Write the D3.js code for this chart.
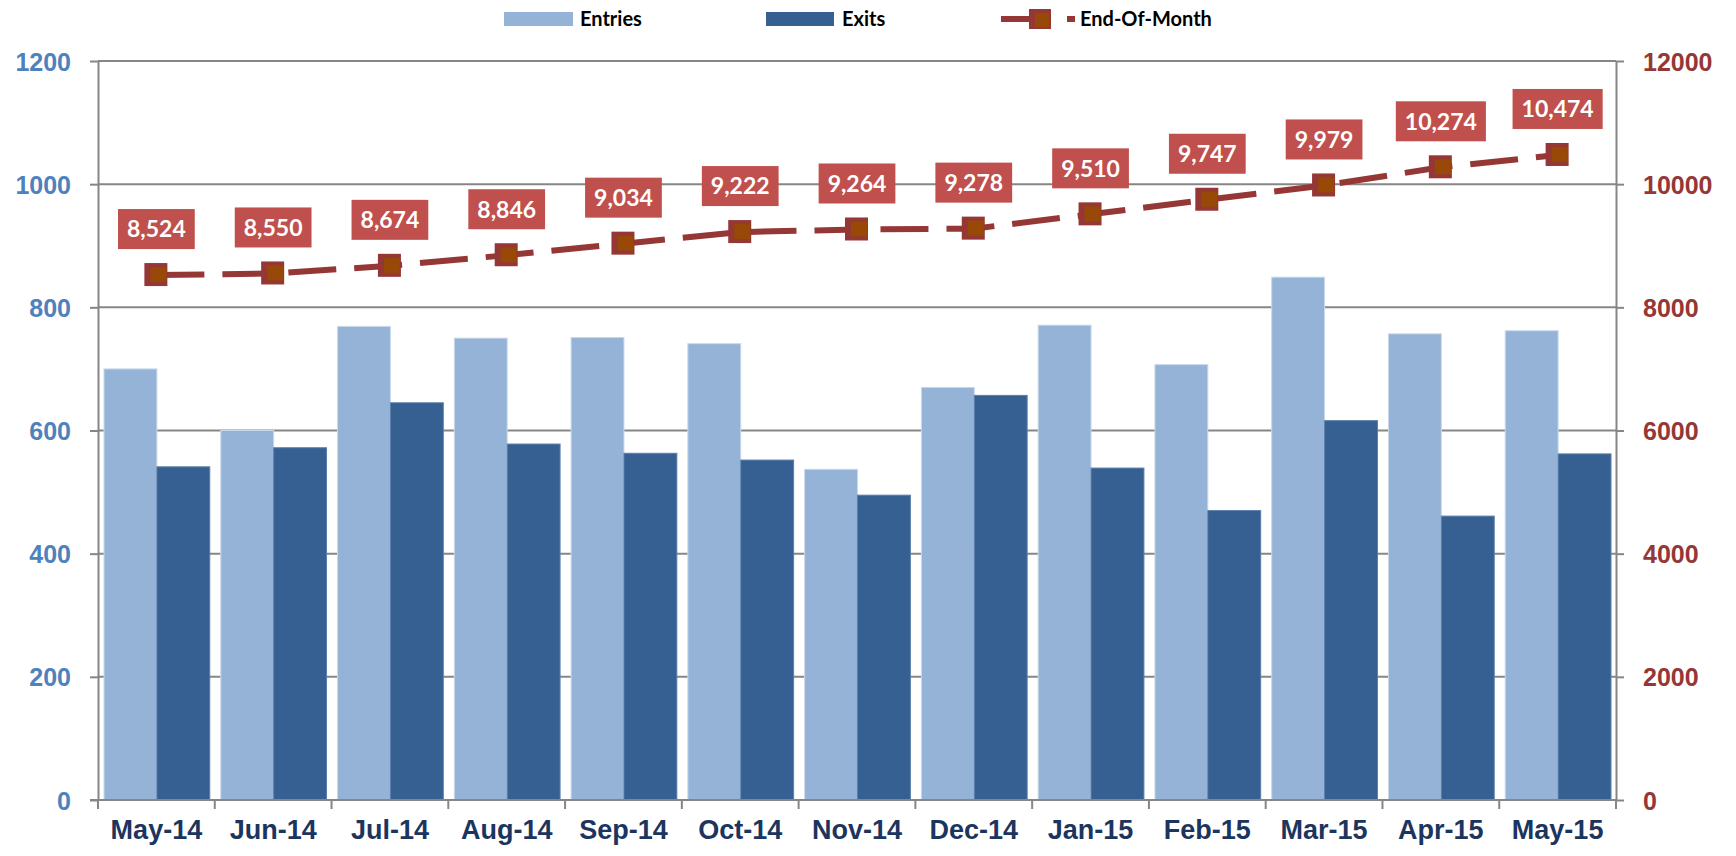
<!DOCTYPE html>
<html>
<head>
<meta charset="utf-8">
<script src="https://cdn.jsdelivr.net/npm/d3@7"></script>
<style>
  body { margin: 0; background: #fff; }
  svg { display: block; font-family: Lato, "Open Sans", sans-serif; font-weight: bold; }
</style>
</head>
<body>
<div id="chart"></div>
<script>
(function(){

var width = 1736,
	height = 856,
	left = 98,
	right = 1616,
	top = 61,
	bottom = 800;

// data
var months = ["May-14","Jun-14","Jul-14","Aug-14","Sep-14","Oct-14","Nov-14","Dec-14","Jan-15","Feb-15","Mar-15","Apr-15","May-15"];
var entries = [700, 600, 769, 750, 751, 741, 537, 670, 771, 707, 849, 757, 762];
var exits = [541, 572, 645, 578, 563, 552, 495, 657, 539, 470, 616, 461, 562];
var endOfMonth = [8524, 8550, 8674, 8846, 9034, 9222, 9264, 9278, 9510, 9747, 9979, 10274, 10474];
var leftTicks = [0, 200, 400, 600, 800, 1000, 1200];
var rightTicks = [0, 2000, 4000, 6000, 8000, 10000, 12000];
var seriesNames = ["Entries", "Exits", "End-Of-Month"];

var grey = "#868686",
	cEntries = "#95B3D7",
	cExits = "#366092",
	cLine = "#953735",
	cMarker = "#984807",
	cLabel = "#C0504D";

var svg = d3.select("#chart").append("svg")
	.attr("width", width)
	.attr("height", height);

var x0 = d3.scaleBand().domain(months).range([left, right]).padding(0);
var x1 = d3.scaleBand().domain(["entries","exits"]).range([6, x0.bandwidth() - 5]);
var y = d3.scaleLinear().domain([0, 1200]).range([bottom, top]);
var y2 = d3.scaleLinear().domain([0, 12000]).range([bottom, top]);

// gridlines
svg.append("g").selectAll("line").data(leftTicks.slice(1)).enter().append("line")
	.attr("x1", left).attr("x2", right)
	.attr("y1", function(d){ return y(d); })
	.attr("y2", function(d){ return y(d); })
	.style("stroke", grey).style("stroke-width", 2);

// bars
var rows = months.map(function(m, i){ return {m: m, entries: entries[i], exits: exits[i]}; });

var groups = svg.append("g").selectAll("g").data(rows).enter().append("g")
	.attr("transform", function(d){ return "translate(" + x0(d.m) + ",0)"; });

groups.append("rect")
	.attr("x", x1("entries"))
	.attr("width", x1.bandwidth())
	.attr("y", function(d){ return y(d.entries); })
	.attr("height", function(d){ return bottom - y(d.entries); })
	.style("fill", cEntries)
	.style("stroke", "#c9d9ec").style("stroke-width", 1);

groups.append("rect")
	.attr("x", x1("exits"))
	.attr("width", x1.bandwidth())
	.attr("y", function(d){ return y(d.exits); })
	.attr("height", function(d){ return bottom - y(d.exits); })
	.style("fill", cExits)
	.style("stroke", "#5a7fab").style("stroke-width", 1);

// axes
var yAxisL = svg.append("g")
	.attr("transform", "translate(" + left + ",0)")
	.call(d3.axisLeft(y).tickValues(leftTicks).tickSize(8).tickSizeOuter(0).tickPadding(19).tickFormat(d3.format("d")));
yAxisL.selectAll("text").style("fill", "#4F81BD").style("font-size", "25px").attr("dy", "0.36em");

var yAxisR = svg.append("g")
	.attr("transform", "translate(" + right + ",0)")
	.call(d3.axisRight(y2).tickValues(rightTicks).tickSize(8).tickSizeOuter(0).tickPadding(19).tickFormat(d3.format("d")));
yAxisR.selectAll("text").style("fill", cLine).style("font-size", "25px").attr("dy", "0.36em");

var xAxis = svg.append("g")
	.attr("transform", "translate(0," + bottom + ")")
	.call(d3.axisBottom(x0).tickSize(0).tickPadding(30));
xAxis.selectAll("text").style("fill", "#1C355E").style("font-size", "27px").attr("dy", "0.32em");
xAxis.select(".domain").attr("d", "M" + (left - 8) + ",0H" + right);

// category boundary ticks
svg.append("g").selectAll("line").data(months.concat(["end"])).enter().append("line")
	.attr("x1", function(d, i){ return i < months.length ? x0(d) : right; })
	.attr("x2", function(d, i){ return i < months.length ? x0(d) : right; })
	.attr("y1", bottom).attr("y2", bottom + 9);

svg.selectAll(".domain, .tick line, g > line")
	.style("stroke", grey).style("stroke-width", 2);
svg.selectAll(".tick text").style("font-weight", "bold");

// end-of-month line
var cx = function(i){ return x0(months[i]) + x0.bandwidth() / 2; };

var line = d3.line()
	.x(function(d, i){ return cx(i); })
	.y(function(d){ return y2(d); });

svg.append("path")
	.datum(endOfMonth)
	.attr("d", line)
	.style("fill", "none")
	.style("stroke", cLine)
	.style("stroke-width", 6)
	.style("stroke-dasharray", "48,18");

var marks = svg.append("g").selectAll("g").data(endOfMonth).enter().append("g")
	.attr("transform", function(d, i){ return "translate(" + cx(i) + "," + y2(d) + ")"; });
marks.append("rect").attr("x", -12).attr("y", -12).attr("width", 23).attr("height", 23)
	.style("fill", cLine);
marks.append("rect").attr("x", -6).attr("y", -8).attr("width", 16).attr("height", 15)
	.style("fill", cMarker);

// data labels
var fmt = d3.format(",");
var labels = svg.append("g").selectAll("g").data(endOfMonth).enter().append("g")
	.attr("transform", function(d, i){ return "translate(" + cx(i) + "," + (y2(d) - 46) + ")"; });
labels.append("text")
	.attr("text-anchor", "middle")
	.attr("dy", "0.36em")
	.style("fill", "#fff")
	.style("font-size", "23px")
	.text(function(d){ return fmt(d); });
labels.each(function(){
	var g = d3.select(this),
		b = g.select("text").node().getBBox();
	g.insert("rect", "text")
		.attr("x", b.x - 9).attr("y", -20)
		.attr("width", b.width + 18).attr("height", 40)
		.style("fill", cLabel);
});

// legend
var legend = svg.append("g");
legend.append("rect").attr("x", 504).attr("y", 12).attr("width", 69).attr("height", 14).style("fill", cEntries);
legend.append("rect").attr("x", 766).attr("y", 12).attr("width", 68).attr("height", 14).style("fill", cExits);
legend.append("line").attr("x1", 1001).attr("x2", 1075).attr("y1", 19).attr("y2", 19)
	.style("stroke", cLine).style("stroke-width", 6).style("stroke-dasharray", "48,18");
legend.append("rect").attr("x", 1029).attr("y", 9).attr("width", 22).attr("height", 20).style("fill", cLine);
legend.append("rect").attr("x", 1035).attr("y", 13).attr("width", 14).attr("height", 14).style("fill", cMarker);
legend.selectAll("text").data(seriesNames).enter().append("text")
	.attr("x", function(d, i){ return [580, 842, 1080][i]; })
	.attr("y", 19)
	.attr("dy", "0.36em")
	.style("font-size", "20px")
	.style("fill", "#000")
	.text(function(d){ return d; });

})()
</script>
</body>
</html>
